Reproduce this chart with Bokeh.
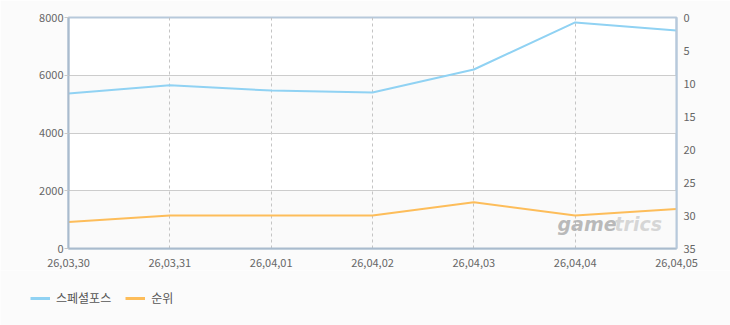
from bokeh.plotting import figure
from bokeh.layouts import column
from bokeh.models import (Range1d, LinearAxis, FixedTicker, BoxAnnotation, Legend,
                          LegendItem, Label)
from bokeh.embed import file_html
from bokeh.resources import INLINE

dates = ["26,03,30", "26,03,31", "26,04,01", "26,04,02", "26,04,03", "26,04,04", "26,04,05"]
players = [5370, 5650, 5470, 5400, 6200, 7830, 7550]
rank = [31, 30, 30, 30, 28, 30, 29]
left_ticks = [0, 2000, 4000, 6000, 8000]
right_ticks = [0, 5, 10, 15, 20, 25, 30, 35]
series_names = ["스페셜포스", "순위"]

xs = list(range(len(dates)))
FONT = "Noto Sans CJK KR"
TXT = "#666666"
BG = "#fbfbfb"
BLUE = "#90d2f3"
ORANGE = "#fdbd5a"

p = figure(width=730, height=270, output_backend="svg", toolbar_location=None,
           x_range=Range1d(0, len(dates) - 1), y_range=Range1d(0, 8000),
           min_border_left=68, min_border_right=54, min_border_top=17, min_border_bottom=22,
           background_fill_color="#ffffff", border_fill_color=BG)
p.extra_y_ranges = {"rank": Range1d(35, 0)}
p.frame_align = False

# alternating bands
for lo, hi in [(0, 2000), (4000, 6000)]:
    p.add_layout(BoxAnnotation(bottom=lo, top=hi, fill_color="#fafafa", fill_alpha=1.0,
                               line_alpha=0, level="image"))

p.outline_line_color = "#b7c9db"
p.outline_line_width = 2

# axes
p.xaxis.ticker = FixedTicker(ticks=xs)
p.xaxis.major_label_overrides = {i: d for i, d in enumerate(dates)}
p.yaxis.ticker = FixedTicker(ticks=left_ticks)
for ax in [p.xaxis[0], p.yaxis[0]]:
    ax.axis_line_color = "#a9bbcd"
    ax.axis_line_width = 2
    ax.major_label_text_font = FONT
    ax.major_label_text_font_size = "11px"
    ax.major_label_text_color = TXT
    ax.minor_tick_line_color = None
p.xaxis.major_tick_line_color = None
p.xaxis.major_label_standoff = 4
p.yaxis.major_tick_line_color = "#c8c8c8"
p.yaxis.major_tick_in = 0
p.yaxis.major_tick_out = 4
p.yaxis.major_label_standoff = 1

ry = LinearAxis(y_range_name="rank", ticker=FixedTicker(ticks=right_ticks))
ry.axis_line_color = "#b7c9db"
ry.axis_line_width = 2
ry.major_tick_line_color = None
ry.minor_tick_line_color = None
ry.major_label_text_font = FONT
ry.major_label_text_font_size = "11px"
ry.major_label_text_color = TXT
ry.major_label_standoff = 1
p.add_layout(ry, "right")

# grid
p.ygrid.ticker = FixedTicker(ticks=left_ticks)
p.ygrid.grid_line_color = "#cccccc"
p.xgrid.ticker = FixedTicker(ticks=xs)
p.xgrid.grid_line_color = "#c4c4c4"
p.xgrid.grid_line_dash = "3 3"

# watermark
p.add_layout(Label(x=489, y=14, x_units="screen", y_units="screen", text="game",
                   text_font="Verdana, DejaVu Sans", text_font_style="bold italic",
                   text_font_size="19px", text_color="#aeaeae", text_alpha=0.85))
p.add_layout(Label(x=546, y=14, x_units="screen", y_units="screen", text="trics",
                   text_font="Verdana, DejaVu Sans", text_font_style="bold italic",
                   text_font_size="19px", text_color="#d0d0d0", text_alpha=0.85))

# series
p.line(xs, players, line_color=BLUE, line_width=2)
p.line(xs, rank, y_range_name="rank", line_color=ORANGE, line_width=2)

# legend strip (its own frame; the series are outside its view)
lg = figure(width=730, height=55, output_backend="svg", toolbar_location=None,
            x_range=Range1d(100, 101), y_range=Range1d(100, 101),
            x_axis_location=None, y_axis_location=None,
            min_border=0, min_border_left=0, min_border_right=0,
            min_border_top=0, min_border_bottom=0,
            border_fill_color=BG, background_fill_color=BG)
lg.frame_align = False
lg.grid.visible = False
lg.outline_line_color = None
d1 = lg.line(xs, players, line_color=BLUE, line_width=3)
d2 = lg.line(xs, rank, line_color=ORANGE, line_width=3)
legend = Legend(items=[LegendItem(label=series_names[0], renderers=[d1]),
                       LegendItem(label=series_names[1], renderers=[d2])],
                orientation="horizontal", location=(30, 19),
                border_line_alpha=0, background_fill_alpha=0,
                label_text_font=FONT, label_text_font_size="12px", label_text_color="#555555",
                glyph_width=20, glyph_height=10, spacing=14, padding=0, margin=0,
                label_standoff=6)
lg.add_layout(legend, "center")

open("out.html", "w").write(file_html(column(p, lg, spacing=0), INLINE))
